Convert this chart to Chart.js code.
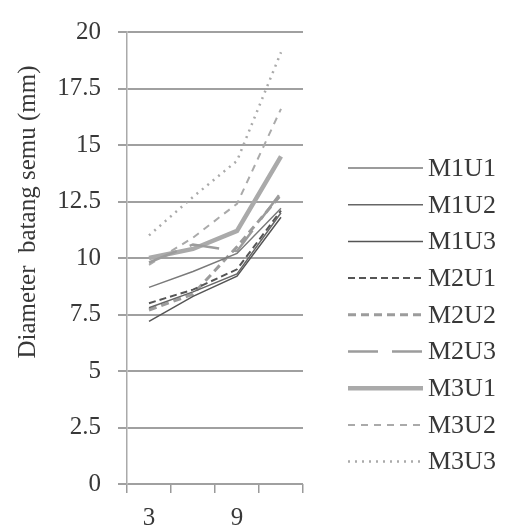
<!DOCTYPE html>
<html>
<head>
<meta charset="utf-8">
<script src="https://cdn.jsdelivr.net/npm/chart.js@4.4.0/dist/chart.umd.min.js"></script>
<style>
  html, body { margin: 0; padding: 0; background: #fff; }
  #wrap { width: 505px; height: 528px; }
</style>
</head>
<body>
<div id="wrap"><canvas id="chart" width="505" height="528"></canvas></div>
<script>
// weeks after planting (category axis), only some are labelled
const weeks = ["3", "6", "9", "12"];
const shownWeeks = ["3", "9"];
const yTickLabels = ["0", "2.5", "5", "7.5", "10", "12.5", "15", "17.5", "20"];

// diameter batang semu (mm)
const M1U1 = [8.7, 9.4, 10.2, 12.2];
const M1U2 = [7.8, 8.5, 9.3, 12.0];
const M1U3 = [7.2, 8.3, 9.2, 11.8];
const M2U1 = [8.0, 8.6, 9.5, 12.1];
const M2U2 = [7.7, 8.4, 10.5, 12.8];
const M2U3 = [9.8, 10.6, 10.3, 12.9];
const M3U1 = [10.0, 10.4, 11.2, 14.5];
const M3U2 = [9.7, 10.9, 12.4, 16.6];
const M3U3 = [11.0, 12.7, 14.3, 19.1];

const serif = "'Liberation Serif', 'Times New Roman', serif";
const textColor = "#383838";

function line(label, data, color, width, dash) {
  return {
    label: label,
    data: data,
    borderColor: color,
    borderWidth: width,
    borderDash: dash,
    pointRadius: 0,
    tension: 0,
    fill: false,
  };
}

const data = {
  labels: weeks,
  datasets: [
    line("M1U1", M1U1, "#7a7a7a", 1.5, []),
    line("M1U2", M1U2, "#666", 1.5, []),
    line("M1U3", M1U3, "#555", 1.5, []),
    line("M2U1", M2U1, "#555", 2, [7, 4]),
    line("M2U2", M2U2, "#9c9c9c", 3, [8, 5]),
    line("M2U3", M2U3, "#9c9c9c", 2.5, [30, 14]),
    line("M3U1", M3U1, "#aaa", 4.5, []),
    line("M3U2", M3U2, "#aaa", 2, [7, 6]),
    line("M3U3", M3U3, "#aaa", 2.5, [2, 5]),
  ],
};

// y title and the line legend on the right
const sidePlugin = {
  id: "side",
  afterDraw(chart) {
    const ctx = chart.ctx;
    ctx.save();
    ctx.fillStyle = textColor;
    ctx.font = "25px " + serif;
    ctx.textAlign = "center";
    ctx.textBaseline = "middle";
    ctx.translate(28, 212);
    ctx.rotate(-Math.PI / 2);
    ctx.fillText("Diameter  batang semu (mm)", 0, 0);
    ctx.restore();

    ctx.save();
    chart.data.datasets.forEach((ds, i) => {
      const y = 168 + i * 36.7;
      ctx.beginPath();
      ctx.strokeStyle = ds.borderColor;
      ctx.lineWidth = ds.borderWidth;
      ctx.setLineDash(ds.borderDash);
      ctx.moveTo(348, y);
      ctx.lineTo(423, y);
      ctx.stroke();
      ctx.setLineDash([]);
      ctx.fillStyle = textColor;
      ctx.font = "26px " + serif;
      ctx.textAlign = "left";
      ctx.textBaseline = "middle";
      ctx.fillText(ds.label, 428, y + 1);
    });
    ctx.restore();
  },
};

const config = {
  type: "line",
  data: data,
  options: {
    responsive: false,
    animation: false,
    layout: { padding: { top: 23, right: 202, bottom: 0, left: 0 } },
    plugins: {
      legend: { display: false },
      tooltip: { enabled: false },
    },
    scales: {
      x: {
        offset: true,
        grid: { offset: true, drawOnChartArea: false, tickLength: 9, color: "#9a9a9a", lineWidth: 1.5 },
        border: { display: false },
        ticks: {
          autoSkip: false,
          maxRotation: 0,
          padding: 10,
          color: textColor,
          font: { family: serif, size: 25 },
          callback: (v, i) => (shownWeeks.includes(weeks[i]) ? weeks[i] : ""),
        },
        afterFit: (s) => { s.height = 44; },
      },
      y: {
        min: 0,
        max: 20,
        grid: { color: "#a0a0a0", lineWidth: 2, tickLength: 9 },
        border: { color: "#aaa", width: 1.5 },
        ticks: {
          stepSize: 2.5,
          padding: 17,
          color: textColor,
          font: { family: serif, size: 25 },
          callback: (v, i) => yTickLabels[i],
        },
        afterFit: (s) => { s.width = 127; },
      },
    },
  },
  plugins: [sidePlugin],
};

const ctx = document.getElementById("chart").getContext("2d");
new Chart(ctx, config);
</script>
</body>
</html>
